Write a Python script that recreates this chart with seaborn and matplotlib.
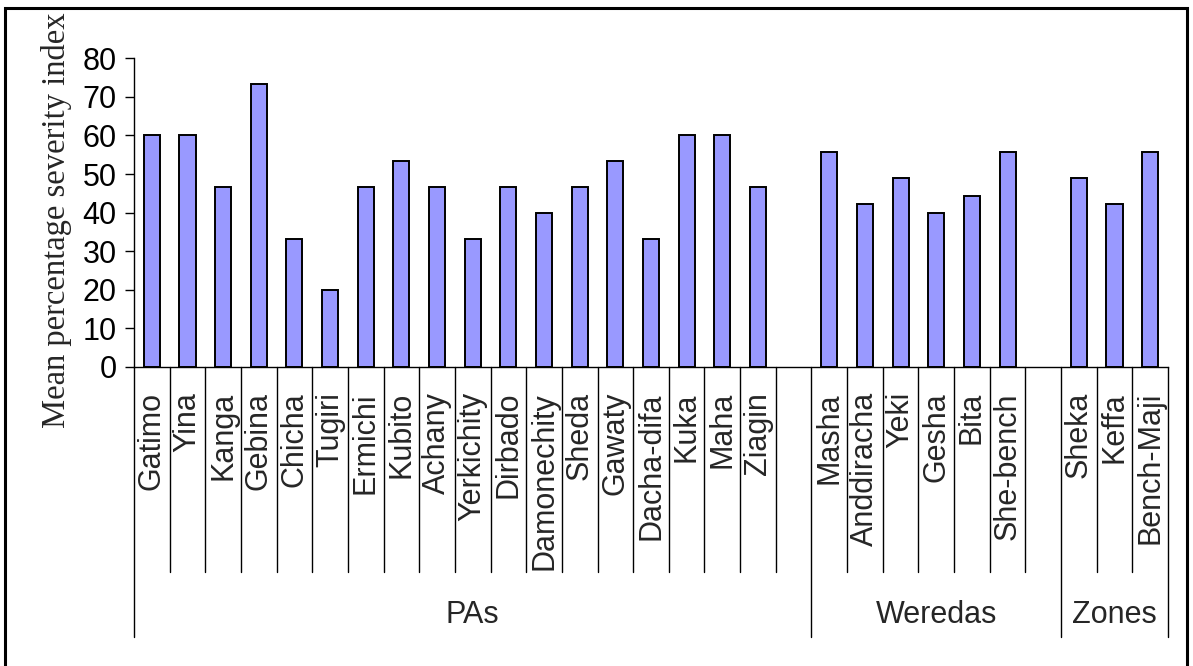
import matplotlib
matplotlib.use("Agg")
import matplotlib.pyplot as plt
import matplotlib.transforms as mtransforms
from matplotlib.lines import Line2D
from matplotlib.patches import Rectangle
import pandas as pd
import seaborn as sns

# Mean percentage severity index by peasant association, wereda and zone
pa_names = ["Gatimo", "Yina", "Kanga", "Gebina", "Chicha", "Tugiri", "Ermichi",
            "Kubito", "Achany", "Yerkichity", "Dirbado", "Damonechity", "Sheda",
            "Gawaty", "Dacha-difa", "Kuka", "Maha", "Ziagin"]
pa_values = [60.0, 60.0, 46.7, 73.3, 33.3, 20.0, 46.7,
             53.3, 46.7, 33.3, 46.7, 40.0, 46.7,
             53.3, 33.3, 60.0, 60.0, 46.7]

wereda_names = ["Masha", "Anddiracha", "Yeki", "Gesha", "Bita", "She-bench"]
wereda_values = [55.6, 42.2, 48.9, 40.0, 44.4, 55.6]

zone_names = ["Sheka", "Keffa", "Bench-Maji"]
zone_values = [48.9, 42.2, 55.6]

group_names = ["PAs", "Weredas", "Zones"]
y_ticks = [0, 10, 20, 30, 40, 50, 60, 70, 80]
y_label = "Mean percentage severity index"

sns.set_theme(style="white")
plt.rcParams["font.family"] = ["Liberation Sans", "DejaVu Sans"]

W, H = 1193, 666
fig = plt.figure(figsize=(W / 100, H / 100), dpi=100)
ax = fig.add_axes([134 / W, 299 / H, 1034 / W, 308.7 / H])

# one empty slot after the PA and wereda groups
groups = [pa_names + [" "], wereda_names + ["  "], zone_names]
order = [name for g in groups for name in g]

df = pd.DataFrame({
    "site": pa_names + wereda_names + zone_names,
    "value": pa_values + wereda_values + zone_values,
})

sns.barplot(data=df, x="site", y="value", order=order, color="#9999FF",
            saturation=1, edgecolor="black", linewidth=1.4, width=0.45,
            errorbar=None, ax=ax)

ax.set_xlim(-0.5, len(order) - 0.5)
ax.set_ylim(0, 80)
ax.set_yticks(y_ticks)
ax.set_yticklabels([str(t) for t in y_ticks], fontsize=22)
ax.set_xticks([])
ax.set_xlabel("")
ax.set_ylabel("")
ax.tick_params(axis="y", direction="out", length=6.5, width=1, pad=6,
               colors="black", left=True)
for side in ("top", "right"):
    ax.spines[side].set_visible(False)
for side in ("left", "bottom"):
    ax.spines[side].set_color("black")
    ax.spines[side].set_linewidth(1)

trans = mtransforms.blended_transform_factory(ax.transData, fig.transFigure)
y_axis = 299 / H
y_sep = (H - 572) / H
y_grp = (H - 637) / H

# group boundaries
edges = [0]
for g in groups:
    edges.append(edges[-1] + len(g))

for b in range(len(order) + 1):
    y_end = y_grp if b in edges else y_sep
    fig.add_artist(Line2D([b - 0.5, b - 0.5], [y_axis, y_end], transform=trans,
                          color="black", lw=1))

# category labels
for i, name in enumerate(order):
    if name.strip():
        ax.text(i, (H - 392) / H, name, transform=trans, rotation=90,
                ha="center", va="top", fontsize=22)

# group labels
for gname, a, b in zip(group_names, edges[:-1], edges[1:]):
    ax.text((a + b - 1) / 2, (H - 615) / H, gname, transform=trans,
            ha="center", va="center", fontsize=22)

fig.text(57 / W, (H - 220) / H, y_label, rotation=90, ha="center",
         va="center", fontsize=23.5, family=["Liberation Serif", "DejaVu Serif"])

# chart frame
fig.add_artist(Rectangle((5 / W, -0.05), (1187 - 5) / W, (H - 8) / H + 0.05,
                         fill=False, lw=2.2, ec="black",
                         transform=fig.transFigure))

fig.savefig("out.png", dpi=100)
